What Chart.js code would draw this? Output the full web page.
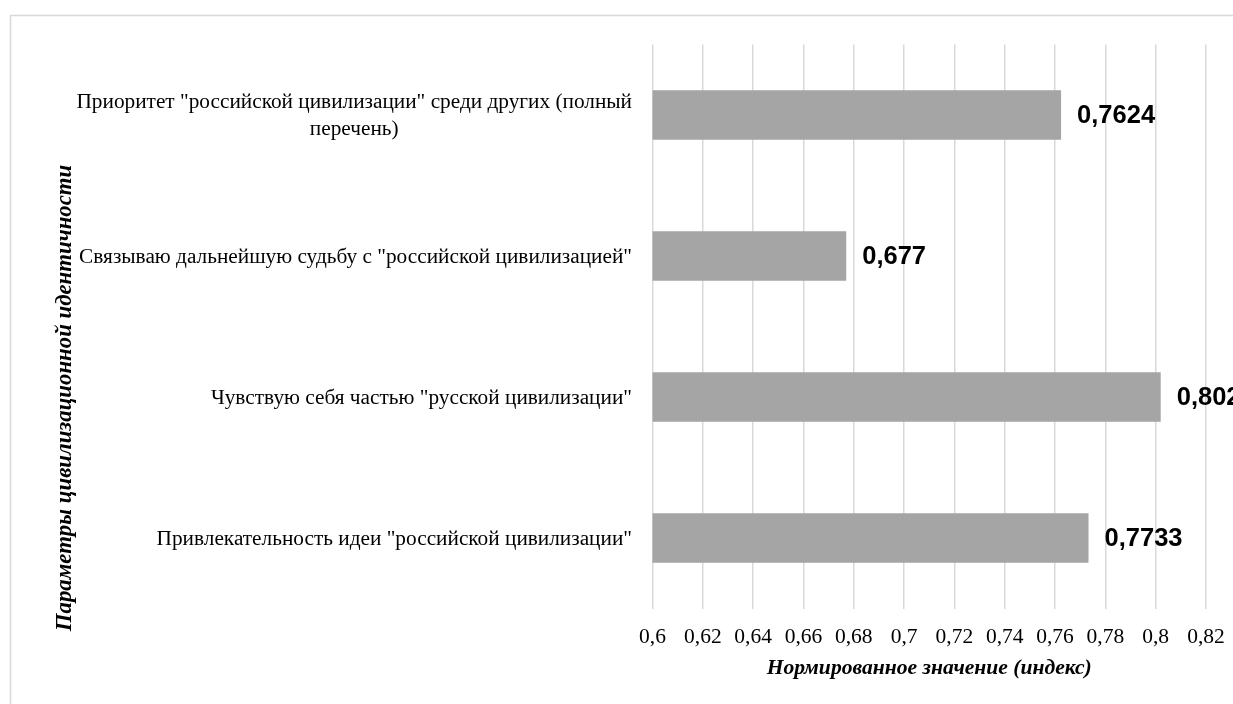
<!DOCTYPE html>
<html><head><meta charset="utf-8">
<script src="https://cdn.jsdelivr.net/npm/chart.js@4.4.1/dist/chart.umd.min.js"></script>
<style>html,body{margin:0;padding:0;background:#fff;overflow:hidden}canvas{display:block}</style>
</head><body>
<canvas id="c" width="1233" height="704"></canvas>
<script>
const categories = [
  ['Приоритет "российской цивилизации" среди других (полный', 'перечень)'],
  'Связываю дальнейшую судьбу с "российской цивилизацией"',
  'Чувствую себя частью "русской цивилизации"',
  'Привлекательность идеи "российской цивилизации"'
];
const values = [0.7624, 0.677, 0.802, 0.7733];
const valueLabels = ['0,7624', '0,677', '0,802', '0,7733'];
const xTicks = [0.6, 0.62, 0.64, 0.66, 0.68, 0.7, 0.72, 0.74, 0.76, 0.78, 0.8, 0.82];
const xTickLabels = ['0,6', '0,62', '0,64', '0,66', '0,68', '0,7', '0,72', '0,74', '0,76', '0,78', '0,8', '0,82'];
const xTitle = 'Нормированное значение (индекс)';
const yTitle = 'Параметры цивилизационной идентичности';

const SERIF = '"Liberation Serif", "Times New Roman", serif';

const framePlugin = {
  id: 'frame',
  beforeDraw(chart) {
    const ctx = chart.ctx;
    ctx.save();
    ctx.strokeStyle = '#d9d9d9';
    ctx.lineWidth = 1.5;
    ctx.beginPath();
    ctx.moveTo(10.5, chart.height);
    ctx.lineTo(10.5, 15.5);
    ctx.lineTo(chart.width, 15.5);
    ctx.stroke();
    ctx.restore();
  }
};

const yLabelPlugin = {
  id: 'yLabels',
  afterDraw(chart) {
    const ctx = chart.ctx;
    const ys = chart.scales.y;
    const fontSize = 21.3, lh = 26.5;
    const rightX = 632;
    ctx.save();
    ctx.font = fontSize + 'px ' + SERIF;
    ctx.fillStyle = '#000';
    ctx.textBaseline = 'middle';
    ctx.textAlign = 'center';
    categories.forEach((lab, i) => {
      const lines = Array.isArray(lab) ? lab : [lab];
      const w = Math.max(...lines.map(l => ctx.measureText(l).width));
      const cx = rightX - w / 2;
      const cy = ys.getPixelForTick(i);
      lines.forEach((l, j) => {
        ctx.fillText(l, cx, cy + 1 + (j - (lines.length - 1) / 2) * lh);
      });
    });
    ctx.restore();
  }
};

const yTitlePlugin = {
  id: 'yTitle',
  afterDraw(chart) {
    const ctx = chart.ctx;
    ctx.save();
    ctx.translate(65, 398);
    ctx.rotate(-Math.PI / 2);
    ctx.font = 'italic bold 22.8px ' + SERIF;
    ctx.fillStyle = '#000';
    ctx.textAlign = 'center';
    ctx.textBaseline = 'middle';
    ctx.fillText(yTitle, 0, 0);
    ctx.restore();
  }
};

const dataLabelPlugin = {
  id: 'dataLabels',
  afterDatasetsDraw(chart) {
    const ctx = chart.ctx;
    const meta = chart.getDatasetMeta(0);
    ctx.save();
    ctx.font = 'bold 25.5px "Liberation Sans", Arial, sans-serif';
    ctx.fillStyle = '#000';
    ctx.textAlign = 'left';
    ctx.textBaseline = 'middle';
    meta.data.forEach((bar, i) => {
      ctx.fillText(valueLabels[i], bar.x + 16, bar.y + 1);
    });
    ctx.restore();
  }
};

new Chart(document.getElementById('c').getContext('2d'), {
  type: 'bar',
  data: {
    labels: categories,
    datasets: [{
      data: values,
      backgroundColor: '#a5a5a5',
      borderWidth: 0,
      barPercentage: 0.35,
      categoryPercentage: 1
    }]
  },
  options: {
    indexAxis: 'y',
    responsive: false,
    animation: false,
    layout: { padding: { top: 44.5, right: 27, left: 0, bottom: 0 } },
    plugins: { legend: { display: false }, tooltip: { enabled: false } },
    scales: {
      x: {
        min: 0.6,
        max: 0.82,
        afterBuildTicks: s => { s.ticks = xTicks.map(v => ({ value: v })); },
        ticks: {
          callback: (v, i) => xTickLabels[i],
          font: { family: SERIF, size: 21.5 },
          color: '#000',
          padding: 0,
          maxRotation: 0,
          autoSkip: false
        },
        grid: { color: '#d9d9d9', lineWidth: 1.5, drawTicks: true, tickLength: 15.5, tickColor: 'rgba(0,0,0,0)' },
        border: { display: false },
        title: {
          display: true,
          text: xTitle,
          color: '#000',
          font: { family: SERIF, size: 21.6, style: 'italic', weight: 'bold' },
          padding: { top: 0, bottom: 23 }
        },
        afterFit: s => { s.height = 95.5; }
      },
      y: {
        ticks: { display: false },
        grid: { display: false },
        border: { display: false },
        afterFit: s => { s.width = 652.5; }
      }
    }
  },
  plugins: [framePlugin, yLabelPlugin, yTitlePlugin, dataLabelPlugin]
});
</script>
</body></html>
